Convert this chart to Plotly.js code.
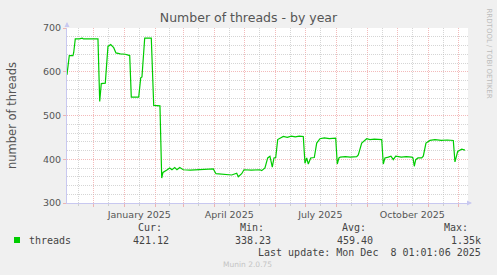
<!DOCTYPE html>
<html>
<head>
<meta charset="utf-8">
<script src="https://cdn.plot.ly/plotly-3.0.1.min.js"></script>
<style>
html,body{margin:0;padding:0;background:#F0F0F0;}
#chart{width:497px;height:275px;}
</style>
</head>
<body>
<div id="chart"></div>
<script>
// ---- data ----
var dates = [
"2024-11-04 16:00","2024-11-07","2024-11-10 16:00","2024-11-11 10:00","2024-11-13","2024-11-17","2024-11-20","2024-11-21",
"2024-12-05 16:00","2024-12-07 10:00","2024-12-09","2024-12-13","2024-12-15 16:00","2024-12-18 10:00","2024-12-21 10:00",
"2024-12-23 16:00","2024-12-28","2025-01-02","2025-01-06 10:00","2025-01-08","2025-01-15 10:00","2025-01-17 10:00",
"2025-01-18 16:00","2025-01-21 10:00","2025-01-28","2025-01-30 10:00","2025-02-05 16:00","2025-02-07 10:00","2025-02-08 16:00",
"2025-02-10 16:00","2025-02-13","2025-02-15 10:00","2025-02-17 16:00","2025-02-20 10:00","2025-02-22 16:00","2025-02-25 10:00",
"2025-03-01","2025-03-08","2025-03-16","2025-03-23","2025-03-31","2025-04-02 16:00","2025-04-06 16:00","2025-04-13 10:00",
"2025-04-18 10:00","2025-04-23 10:00","2025-04-25","2025-04-28 10:00","2025-04-30 16:00","2025-05-08","2025-05-16 16:00",
"2025-05-18 10:00","2025-05-21 16:00","2025-05-24 10:00","2025-05-26 16:00","2025-05-29","2025-05-30 16:00","2025-06-01 10:00",
"2025-06-03 10:00","2025-06-09","2025-06-13","2025-06-17","2025-06-21","2025-06-25","2025-06-29","2025-06-30 16:00",
"2025-07-02 10:00","2025-07-04","2025-07-06 10:00","2025-07-10","2025-07-12 10:00","2025-07-15 16:00","2025-07-20","2025-07-25",
"2025-07-31 10:00","2025-08-02","2025-08-03 16:00","2025-08-05","2025-08-10","2025-08-15","2025-08-21 10:00","2025-08-23",
"2025-08-26 10:00","2025-08-31 10:00","2025-09-03 16:00","2025-09-08","2025-09-15 10:00","2025-09-17","2025-09-18 16:00",
"2025-09-22","2025-09-24 16:00","2025-09-27","2025-09-29 10:00","2025-10-05","2025-10-10","2025-10-15 10:00","2025-10-16 16:00",
"2025-10-18","2025-10-19 10:00","2025-10-21 16:00","2025-10-25 10:00","2025-10-27","2025-10-29 16:00","2025-11-02 16:00",
"2025-11-07 16:00","2025-11-14","2025-11-20","2025-11-26","2025-11-27 16:00","2025-11-30 10:00","2025-12-04 10:00","2025-12-07 16:00"
];
var threads = [
593,637,637,644,675,675,677,675,
675,532,573,574,658,662,655,
643,641,640,637,542,542,586,
588,677,677,523,522,357,370,
372,376,380,376,381,376,381,
376,375,376,378,378,367,366,366,
364,368,360,367,376,375,376,
374,380,403,407,382,403,404,
445,452,450,453,451,453,452,391,
403,389,403,404,437,447,449,447,
448,389,403,405,406,405,406,410,
437,447,445,446,445,389,403,
405,407,399,407,405,406,405,403,
384,399,403,403,407,437,443,
445,443,444,443,394,418,423,421
];
// mid-month ticks (minor grid) and their labels (only quarterly labels shown)
var midMonthTicks = ["2024-11-16","2024-12-16","2025-01-16","2025-02-15","2025-03-16","2025-04-16","2025-05-16",
                     "2025-06-16","2025-07-16","2025-08-16","2025-09-16","2025-10-16","2025-11-16"];
var midMonthLabels = ["","","January 2025","","","April 2025","","","July 2025","","","October 2025",""];
var legendName = "threads";
var statNames = ["Cur:","Min:","Avg:","Max:"];
var statValues = ["421.12","338.23","459.40","1.35k"];
var lastUpdate = "Last update: Mon Dec  8 01:01:06 2025";

// ---- layout helpers (pixel -> paper) ----
var W = 497, H = 275, L = 67, R = 468, T = 28, B = 203;
function px(x){ return (x - L) / (R - L); }
function py(y){ return (B - y) / (B - T); }

var xRange = ["2024-11-04 17:00","2025-12-10 17:00"];
var red = "rgba(235,140,140,0.6)";
var gray = "rgba(185,185,185,0.6)";
var axisCol = "#c8c8f0";
var txt = "#555555";
var sans = "DejaVu Sans, sans-serif";
var mono = "DejaVu Sans Mono, monospace";

var traces = [
  {x: dates, y: threads, type: "scatter", mode: "lines",
   line: {color: "#00CC00", width: 1.2}, showlegend: false, hoverinfo: "skip"}
];

var annotations = [
  {text: "RRDTOOL / TOBI OETIKER", xref: "paper", yref: "paper", x: px(488.5), y: py(53),
   xanchor: "center", yanchor: "middle",
   showarrow: false, textangle: 90, font: {family: sans, size: 7, color: "#bbbbbb"}},
  {text: "", xref: "paper", yref: "paper", x: px(472), y: py(203), ax: -5, ay: 0,
   showarrow: true, arrowhead: 2, arrowsize: 1, arrowwidth: 1, arrowcolor: axisCol},
  {text: "", xref: "paper", yref: "paper", x: px(67), y: py(22), ax: 0, ay: 5,
   showarrow: true, arrowhead: 2, arrowsize: 1, arrowwidth: 1, arrowcolor: axisCol},
  {text: legendName, xref: "paper", yref: "paper", x: px(26.5), y: py(240), xanchor: "left", yanchor: "middle",
   showarrow: false, font: {family: mono, size: 10, color: "#444"}},
  {text: lastUpdate, xref: "paper", yref: "paper", x: px(483), y: py(252.5), xanchor: "right", yanchor: "middle",
   showarrow: false, font: {family: mono, size: 10, color: "#444"}},
  {text: "Munin 2.0.75", xref: "paper", yref: "paper", x: px(247.5), y: py(264), xanchor: "center", yanchor: "middle",
   showarrow: false, font: {family: sans, size: 7.5, color: "#c4c4c4"}}
];
var nameRight = [164, 266, 368, 470.5];
var valRight = [170.5, 272.5, 374.5, 483];
for (var i = 0; i < statNames.length; i++) {
  annotations.push({text: statNames[i], xref: "paper", yref: "paper", x: px(nameRight[i]), y: py(227.5),
    xanchor: "right", yanchor: "middle", showarrow: false, font: {family: mono, size: 10, color: "#444"}});
  annotations.push({text: statValues[i], xref: "paper", yref: "paper", x: px(valRight[i]), y: py(240),
    xanchor: "right", yanchor: "middle", showarrow: false, font: {family: mono, size: 10, color: "#444"}});
}

var layout = {
  width: W, height: H,
  margin: {l: L, r: W - R, t: T, b: H - B, pad: 0},
  paper_bgcolor: "#F0F0F0", plot_bgcolor: "#FFFFFF",
  showlegend: false,
  title: {text: "Number of threads - by year", xref: "container", x: 248.5 / W, xanchor: "center",
          yref: "container", y: 1 - 18/H, yanchor: "middle",
          font: {family: sans, size: 12.5, color: txt}},
  xaxis: {type: "date", range: xRange, tickmode: "array", tickvals: midMonthTicks, ticktext: midMonthLabels,
          ticks: "outside", ticklen: 2, tickcolor: gray, tickwidth: 1,
          showgrid: true, gridcolor: gray, griddash: "1px,1px", gridwidth: 1,
          minor: {tickmode: "linear", tick0: "2024-12-01", dtick: "M1", showgrid: true, gridcolor: red,
                  griddash: "1px,1px", ticks: "outside", ticklen: 3, tickcolor: red},
          ticklabelstandoff: 1,
          tickfont: {family: sans, size: 9.5, color: txt},
          showline: true, linecolor: axisCol, linewidth: 1, zeroline: false, fixedrange: true},
  yaxis: {range: [300, 700], tickmode: "linear", tick0: 300, dtick: 100,
          ticks: "outside", ticklen: 3, tickcolor: red,
          showgrid: true, gridcolor: red, griddash: "1px,1px",
          minor: {tick0: 300, dtick: 20, showgrid: true, gridcolor: gray, griddash: "1px,1px"},
          showline: true, linecolor: axisCol, linewidth: 1, zeroline: false,
          tickfont: {family: sans, size: 9.5, color: txt},
          title: {text: "number of threads", standoff: 23, font: {family: sans, size: 11.5, color: txt}},
          fixedrange: true},
  annotations: annotations,
  shapes: [
    {type: "rect", xref: "paper", yref: "paper", x0: px(14), x1: px(20), y0: py(243), y1: py(237),
     fillcolor: "#00CC00", line: {width: 0}}
  ]
};

Plotly.newPlot("chart", traces, layout, {staticPlot: true, displayModeBar: false});
</script>
</body>
</html>
